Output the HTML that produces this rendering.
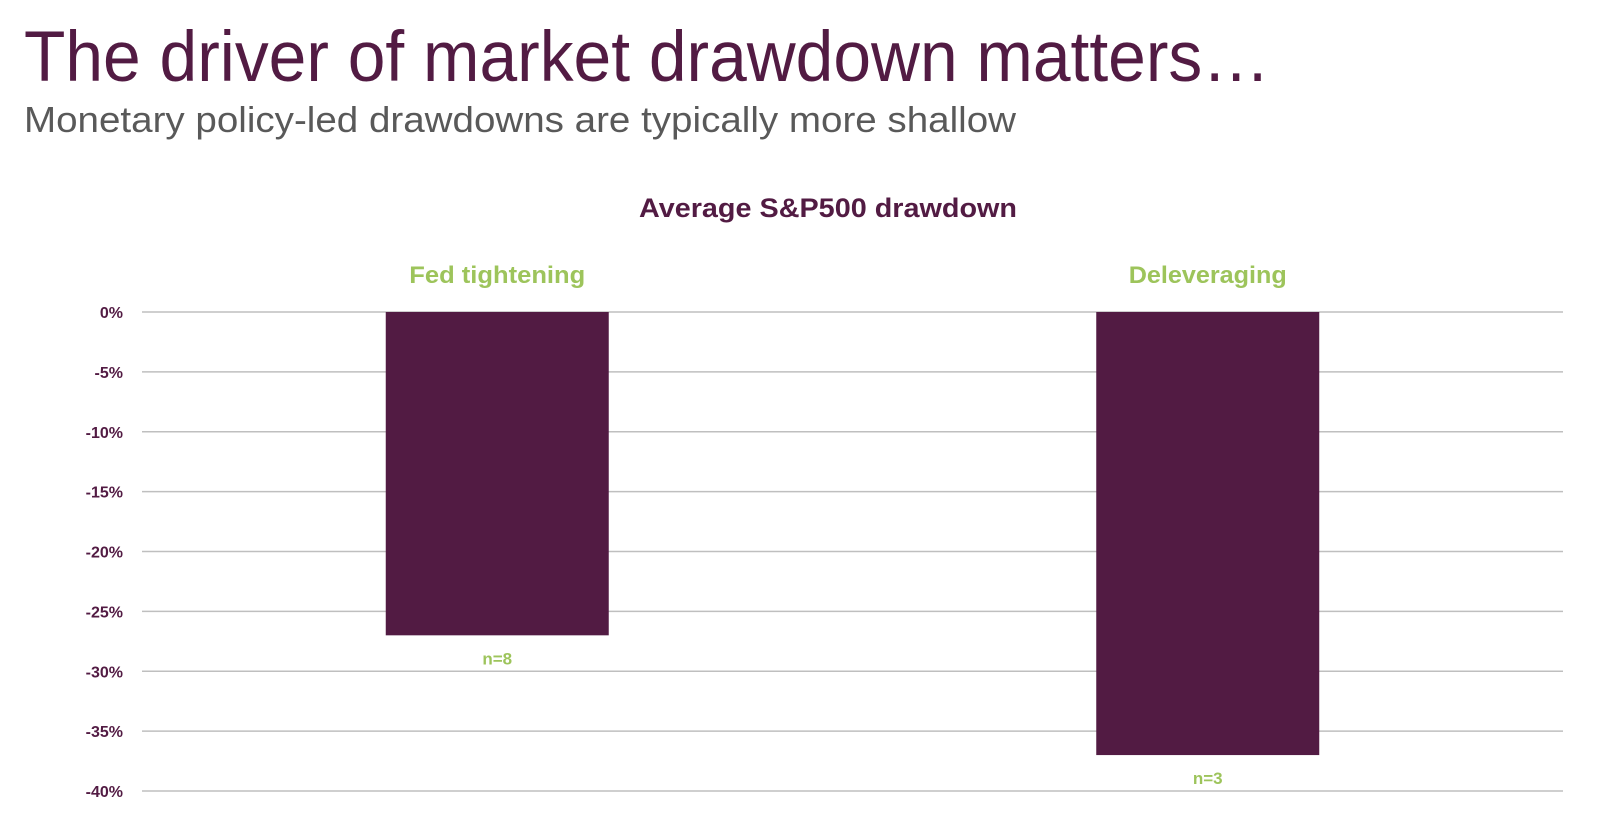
<!DOCTYPE html>
<html><head><meta charset="utf-8"><style>
html,body{margin:0;padding:0;background:#fff;width:1604px;height:830px;overflow:hidden}
svg{display:block;font-family:"Liberation Sans",Arial,sans-serif}
</style></head><body>
<svg id="chart" width="1604" height="830" viewBox="0 0 1604 830">
<text x="24" y="81" font-size="71" fill="#521b43" textLength="1246" lengthAdjust="spacingAndGlyphs">The driver of market drawdown matters…</text>
<text x="24" y="132" font-size="36" fill="#595959" textLength="992" lengthAdjust="spacingAndGlyphs">Monetary policy-led drawdowns are typically more shallow</text>
<text x="828" y="217" font-size="27" font-weight="bold" fill="#521b43" text-anchor="middle" textLength="378" lengthAdjust="spacingAndGlyphs">Average S&amp;P500 drawdown</text>
<g id="grid"></g><g id="bars"></g><g id="labels"></g>
</svg>
<script>
const categories = ["Fed tightening", "Deleveraging"];
const values = [-27, -37];
const counts = ["n=8", "n=3"];
const ticks = [0, -5, -10, -15, -20, -25, -30, -35, -40];
const tickLabels = ["0%", "-5%", "-10%", "-15%", "-20%", "-25%", "-30%", "-35%", "-40%"];
const catLabelLengths = [176, 158];

const NS = "http://www.w3.org/2000/svg";
const x0 = 142, x1 = 1563, yTop = 312, yBot = 791;
const yScale = v => yTop + (0 - v) / 40 * (yBot - yTop);
const band = (x1 - x0) / categories.length;
const xCenter = i => x0 + band * (i + 0.5);
const barW = 223;
function mk(tag, attrs, parent) { const e = document.createElementNS(NS, tag); for (const k in attrs) e.setAttribute(k, attrs[k]); parent.appendChild(e); return e; }
const grid = document.getElementById("grid"), bars = document.getElementById("bars"), labels = document.getElementById("labels");
ticks.forEach((t, i) => {
  const y = yScale(t);
  const l = mk("line", {x1: x0, x2: x1, y1: y, y2: y, stroke: "#bfbfbf", "stroke-width": 1.5}, grid);
  
  
  const tx = mk("text", {x: 123, y: y + 6, "font-size": 16, "font-weight": "bold", fill: "#521b43", "text-anchor": "end"}, grid);
  tx.textContent = tickLabels[i];
  
  
});
categories.forEach((c, i) => {
  const cx = xCenter(i), y0 = yScale(0), y = yScale(values[i]);
  const r = mk("rect", {x: cx - barW / 2, y: y0, width: barW, height: y - y0, fill: "#521b43"}, bars);
  
  
  const cl = mk("text", {x: cx, y: 283, "font-size": 24, "font-weight": "bold", fill: "#9dc45b", "text-anchor": "middle", textLength: catLabelLengths[i], lengthAdjust: "spacingAndGlyphs"}, labels);
  cl.textContent = c;
  
  
  const nl = mk("text", {x: cx, y: y + 29, "font-size": 17, "font-weight": "bold", fill: "#9dc45b", "text-anchor": "middle"}, labels);
  nl.textContent = counts[i];
  
  
});
</script>
</body></html>
